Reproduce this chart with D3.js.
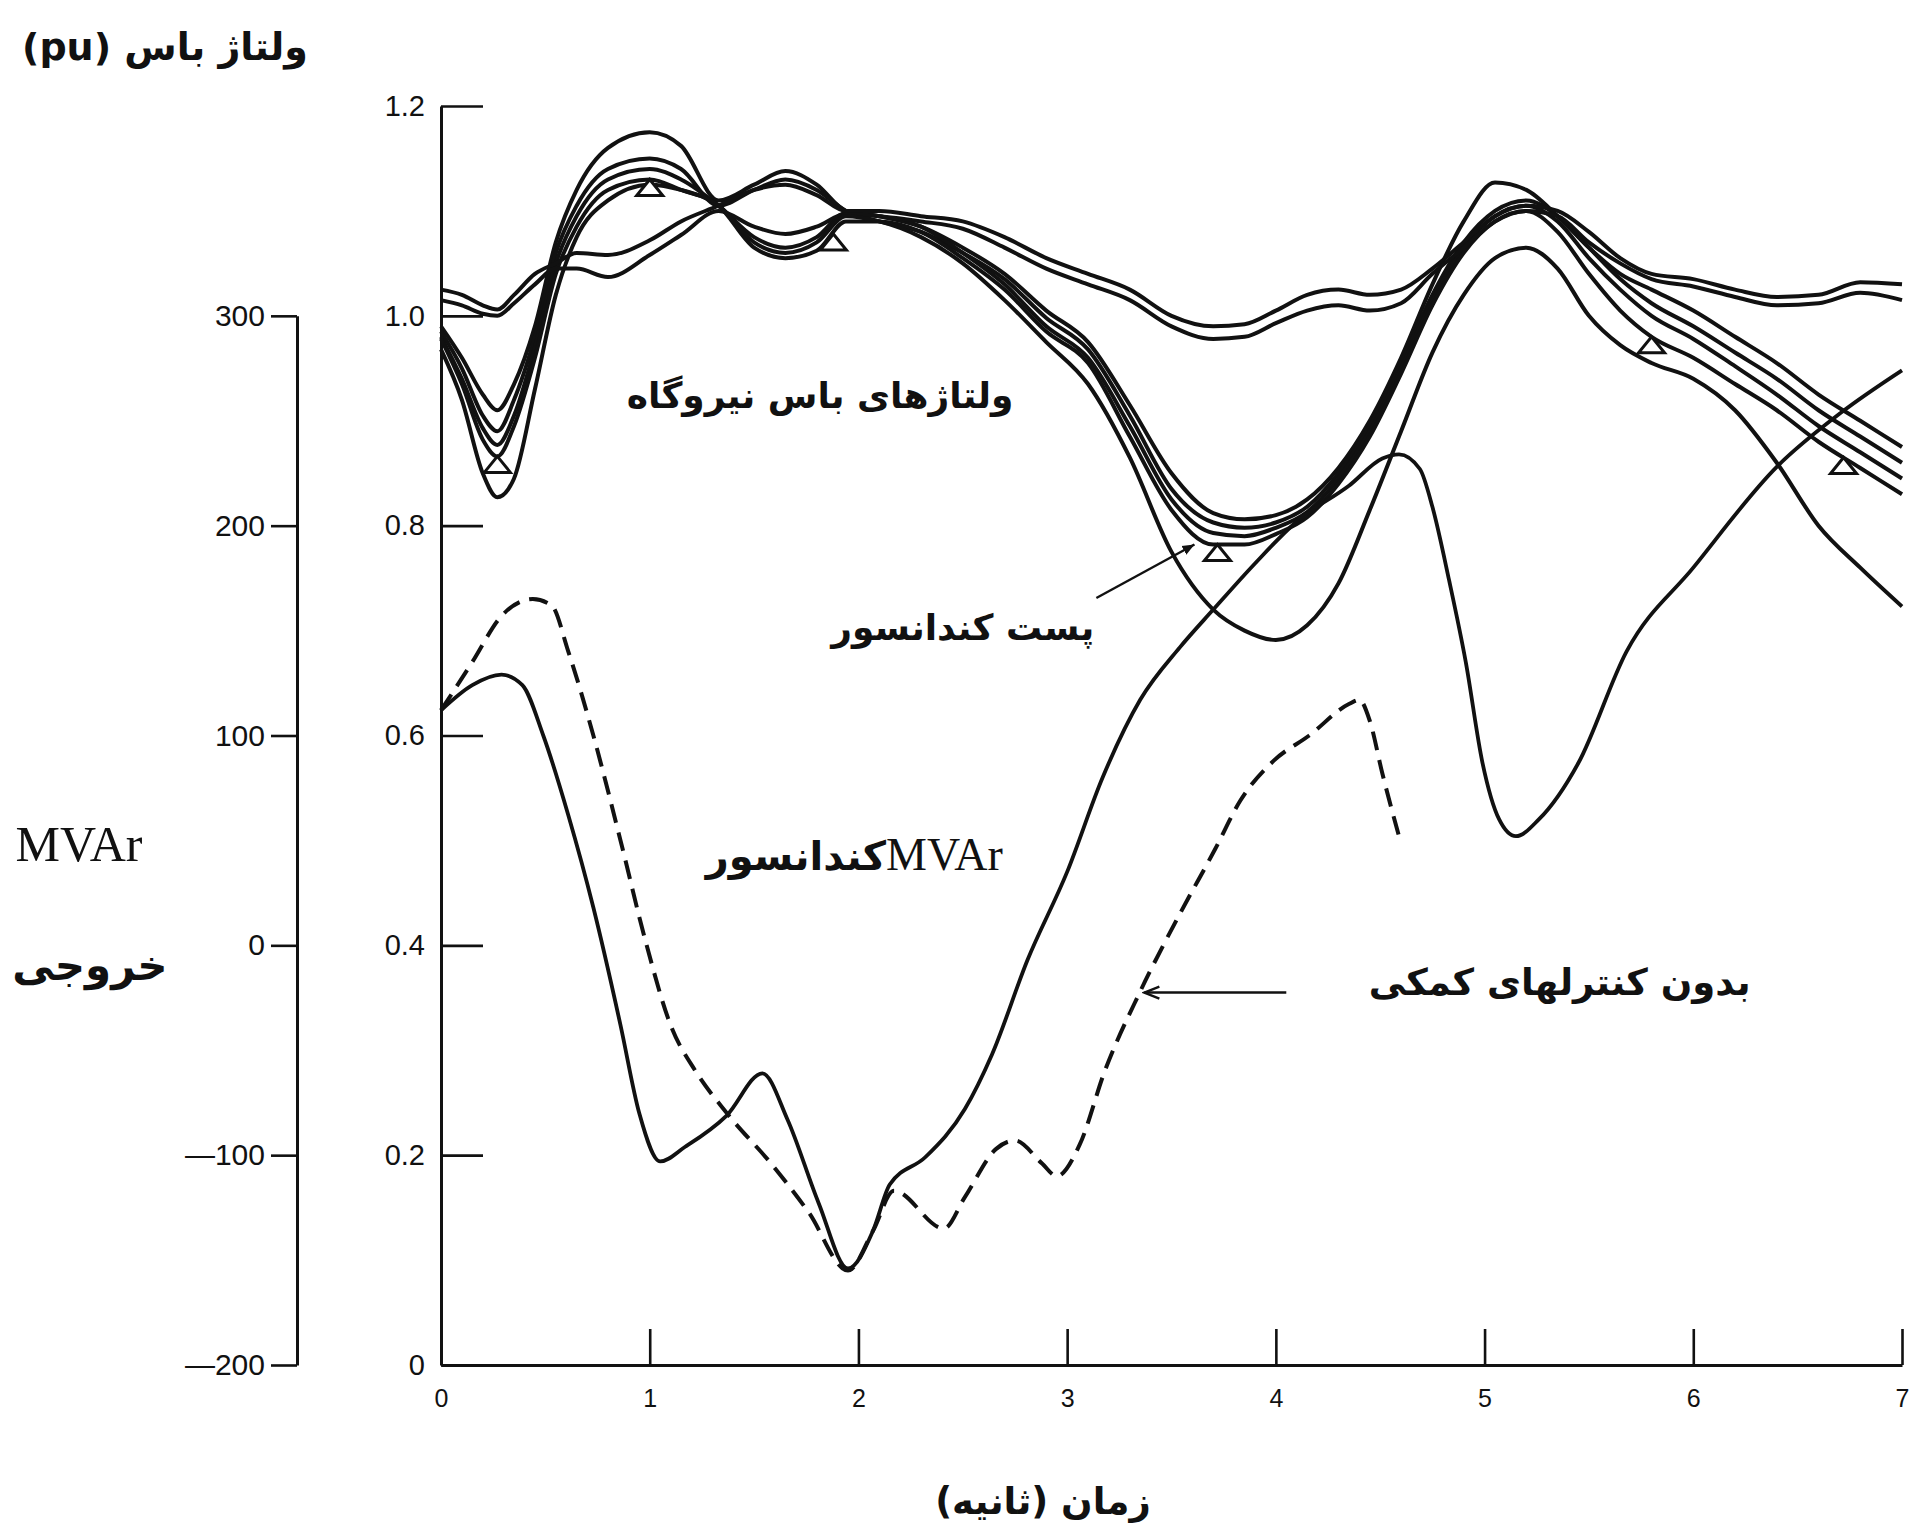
<!DOCTYPE html>
<html>
<head>
<meta charset="utf-8">
<script src="https://cdn.jsdelivr.net/npm/d3@7"></script>
<style>
  body { margin: 0; background: #fff; }
  svg { display: block; }
  .axis text { font-family: "Liberation Sans", Arial, sans-serif; fill: #111; }
  .axis path, .axis line { stroke: #111; }
</style>
</head>
<body>
<div id="chart"></div>
<script>
// ---- data ----
// bus voltage curves (pu), all on one time grid (s)
var voltTime = [0, 0.1, 0.2, 0.27, 0.35, 0.45, 0.55, 0.65, 0.8, 1.0, 1.15, 1.33, 1.5, 1.65, 1.8, 1.94, 2.1, 2.3, 2.5, 2.7, 2.9, 3.1, 3.3, 3.5, 3.7, 3.85, 4.0, 4.15, 4.3, 4.45, 4.6, 4.75, 4.9, 5.05, 5.2, 5.35, 5.5, 5.65, 5.8, 6.0, 6.2, 6.4, 6.6, 6.8, 7.0];
var busA = [0.99, 0.96, 0.925, 0.91, 0.935, 0.99, 1.07, 1.12, 1.16, 1.175, 1.162, 1.11, 1.125, 1.138, 1.125, 1.10, 1.095, 1.085, 1.065, 1.04, 1.005, 0.975, 0.915, 0.85, 0.812, 0.806, 0.81, 0.825, 0.855, 0.9, 0.96, 1.03, 1.09, 1.127, 1.12, 1.095, 1.065, 1.04, 1.025, 1.005, 0.98, 0.955, 0.925, 0.9, 0.875];
var busB = [0.985, 0.95, 0.905, 0.89, 0.92, 0.98, 1.06, 1.105, 1.14, 1.15, 1.14, 1.105, 1.12, 1.13, 1.12, 1.10, 1.09, 1.08, 1.06, 1.035, 0.998, 0.968, 0.905, 0.835, 0.803, 0.798, 0.803, 0.818, 0.85, 0.895, 0.955, 1.02, 1.07, 1.10, 1.11, 1.095, 1.065, 1.035, 1.012, 0.99, 0.965, 0.94, 0.91, 0.885, 0.86];
var busC = [0.98, 0.94, 0.893, 0.877, 0.905, 0.97, 1.05, 1.095, 1.13, 1.14, 1.13, 1.105, 1.075, 1.065, 1.075, 1.098, 1.095, 1.085, 1.06, 1.03, 0.99, 0.96, 0.895, 0.825, 0.793, 0.79, 0.798, 0.813, 0.845, 0.89, 0.95, 1.015, 1.065, 1.095, 1.105, 1.09, 1.055, 1.025, 1.0, 0.978, 0.952, 0.925, 0.895, 0.87, 0.845];
var busD = [0.978, 0.935, 0.882, 0.866, 0.895, 0.96, 1.04, 1.085, 1.12, 1.13, 1.12, 1.105, 1.065, 1.055, 1.062, 1.09, 1.09, 1.08, 1.055, 1.025, 0.985, 0.955, 0.885, 0.815, 0.782, 0.782, 0.792, 0.808, 0.84, 0.885, 0.945, 1.01, 1.06, 1.09, 1.10, 1.08, 1.04, 1.005, 0.98, 0.96, 0.935, 0.91, 0.88, 0.855, 0.83];
var busE = [1.025, 1.02, 1.01, 1.006, 1.02, 1.04, 1.05, 1.06, 1.058, 1.072, 1.09, 1.105, 1.12, 1.125, 1.115, 1.10, 1.10, 1.095, 1.09, 1.075, 1.055, 1.04, 1.025, 1.0, 0.99, 0.992, 1.005, 1.02, 1.025, 1.02, 1.025, 1.045, 1.07, 1.095, 1.105, 1.10, 1.08, 1.055, 1.04, 1.035, 1.025, 1.018, 1.02, 1.032, 1.03];
var busF = [1.015, 1.01, 1.002, 1.0, 1.012, 1.03, 1.045, 1.045, 1.037, 1.058, 1.077, 1.1, 1.085, 1.078, 1.085, 1.097, 1.095, 1.09, 1.083, 1.065, 1.045, 1.03, 1.015, 0.99, 0.978, 0.98, 0.993, 1.005, 1.01, 1.005, 1.012, 1.04, 1.065, 1.09, 1.10, 1.095, 1.07, 1.05, 1.035, 1.028, 1.018, 1.01, 1.012, 1.022, 1.015];
var busCond = [0.968, 0.92, 0.85, 0.827, 0.845, 0.93, 1.02, 1.075, 1.11, 1.125, 1.12, 1.105, 1.07, 1.06, 1.07, 1.095, 1.09, 1.075, 1.05, 1.015, 0.975, 0.935, 0.865, 0.775, 0.72, 0.70, 0.691, 0.705, 0.745, 0.815, 0.89, 0.965, 1.02, 1.055, 1.065, 1.045, 1.0, 0.972, 0.955, 0.94, 0.91, 0.86, 0.80, 0.76, 0.723];

// triangle markers sit on busD at these times (s)
var markerTimes = [0.27, 1.0, 1.88, 3.72, 5.8, 6.72];

// condenser output (MVAr), with auxiliary controls (solid)
var mvarTime = [0, 0.15, 0.29, 0.39, 0.49, 0.61, 0.73, 0.86, 0.95, 1.05, 1.17, 1.37, 1.54, 1.66, 1.81, 1.95, 2.07, 2.15, 2.32, 2.51, 2.64, 2.81, 3.0, 3.17, 3.35, 3.54, 3.7, 3.9, 4.1, 4.35, 4.51, 4.59, 4.69, 4.75, 4.83, 4.91, 4.99, 5.07, 5.15, 5.26, 5.45, 5.68, 6.0, 6.4, 6.71, 7.0];
var mvarWith = [112, 124, 129, 124, 100, 62, 18, -38, -80, -103, -96, -81, -61, -83, -123, -154, -136, -114, -101, -78, -52, -7, 35, 80, 117, 142, 160, 182, 202, 219, 232, 234, 227, 209, 174, 135, 87, 60, 52, 60, 87, 140, 180, 228, 254, 274];

// condenser output without auxiliary controls (dashed)
var dashTime = [0, 0.15, 0.29, 0.44, 0.53, 0.61, 0.73, 0.86, 0.98, 1.1, 1.22, 1.37, 1.59, 1.76, 1.95, 2.07, 2.17, 2.41, 2.51, 2.66, 2.75, 2.88, 2.95, 3.06, 3.18, 3.35, 3.54, 3.71, 3.83, 3.99, 4.16, 4.35, 4.4, 4.45, 4.51, 4.59];
var mvarWithout = [112, 135, 157, 165, 162, 140, 100, 50, 2, -38, -60, -80, -105, -127, -155, -136, -117, -135, -120, -97, -93, -104, -110, -95, -60, -22, 15, 46, 69, 88, 100, 115, 117, 107, 82, 52];

var timeTicks = [0, 1, 2, 3, 4, 5, 6, 7];
var puTicks = [0, 0.2, 0.4, 0.6, 0.8, 1.0, 1.2];
var mvarTicks = [-200, -100, 0, 100, 200, 300];

// ---- drawing ----
var width = 1917, height = 1534;

var svg = d3.select("#chart")
  .append("svg")
    .attr("width", width)
    .attr("height", height);

svg.append("rect")
  .attr("width", width)
  .attr("height", height)
  .attr("fill", "#fff");

var x = d3.scaleLinear().domain([0, 7]).range([441, 1902]);
var y = d3.scaleLinear().domain([0, 1.2]).range([1365, 106]);
var yMvar = d3.scaleLinear().domain([-200, 300]).range([y(0), y(1.0)]);

// x axis, ticks pointing up
var xAxis = d3.axisBottom(x)
  .tickValues(timeTicks)
  .tickSize(-36)
  .tickSizeOuter(0)
  .tickPadding(24)
  .tickFormat(d3.format("d"));
var gx = svg.append("g")
  .attr("class", "axis")
  .attr("transform", "translate(0," + y(0) + ")")
  .call(xAxis);
gx.selectAll("text").attr("font-size", 25);

// pu axis, ticks pointing into the plot
var puAxis = d3.axisLeft(y)
  .tickValues(puTicks)
  .tickSize(-42)
  .tickSizeOuter(0)
  .tickPadding(16)
  .tickFormat(function(d) { return d === 0 ? "0" : d.toFixed(1); });
var gy = svg.append("g")
  .attr("class", "axis")
  .attr("transform", "translate(" + x(0) + ",0)")
  .call(puAxis);
gy.selectAll("text").attr("font-size", 29);

// MVAr axis
var mvarAxis = d3.axisLeft(yMvar)
  .tickValues(mvarTicks)
  .tickSize(26)
  .tickSizeOuter(0)
  .tickPadding(6)
  .tickFormat(function(d) { return d < 0 ? "\u2014" + Math.abs(d) : String(d); });
var gm = svg.append("g")
  .attr("class", "axis")
  .attr("transform", "translate(297,0)")
  .call(mvarAxis);
gm.selectAll("text").attr("font-size", 30);

svg.selectAll(".axis .domain").attr("stroke-width", 3);
svg.selectAll(".axis .tick line").attr("stroke-width", 2.6);

// bus voltage curves
var voltSeries = [busA, busB, busC, busD, busE, busF, busCond];

var line = d3.line()
  .x(function(d) { return x(d.t); })
  .y(function(d) { return y(d.v); })
  .curve(d3.curveMonotoneX);

svg.selectAll(".volt")
  .data(voltSeries.map(function(vals) {
    return vals.map(function(v, i) { return {t: voltTime[i], v: v}; });
  }))
  .enter()
  .append("path")
    .attr("class", "volt")
    .attr("d", line)
    .attr("fill", "none")
    .attr("stroke", "#111")
    .attr("stroke-width", 4)
    .attr("stroke-linejoin", "round");

// condenser MVAr curves
var mvarLine = d3.line()
  .x(function(d) { return x(d.t); })
  .y(function(d) { return yMvar(d.q); })
  .curve(d3.curveMonotoneX);

svg.append("path")
  .datum(mvarWith.map(function(q, i) { return {t: mvarTime[i], q: q}; }))
  .attr("d", mvarLine)
  .attr("fill", "none")
  .attr("stroke", "#111")
  .attr("stroke-width", 3.8);

svg.append("path")
  .datum(mvarWithout.map(function(q, i) { return {t: dashTime[i], q: q}; }))
  .attr("d", mvarLine)
  .attr("fill", "none")
  .attr("stroke", "#111")
  .attr("stroke-width", 4)
  .attr("stroke-dasharray", "19,10");

// triangle markers on busD
var onBusD = d3.scaleLinear().domain(voltTime).range(busD);
svg.selectAll(".tri")
  .data(markerTimes)
  .enter()
  .append("path")
    .attr("class", "tri")
    .attr("transform", function(d) { return "translate(" + x(d) + "," + y(onBusD(d)) + ")"; })
    .attr("d", "M0,0 L13,16 L-13,16 Z")
    .attr("fill", "#fff")
    .attr("stroke", "#111")
    .attr("stroke-width", 3);

// arrow heads
var defs = svg.append("defs");
defs.append("marker")
  .attr("id", "headFill")
  .attr("viewBox", "-12 -6 14 12")
  .attr("markerWidth", 14)
  .attr("markerHeight", 12)
  .attr("markerUnits", "userSpaceOnUse")
  .attr("orient", "auto")
  .append("path")
    .attr("d", "M-12,-5 L0,0 L-12,5 Z")
    .attr("fill", "#111");
defs.append("marker")
  .attr("id", "headOpen")
  .attr("viewBox", "-16 -8 18 16")
  .attr("markerWidth", 18)
  .attr("markerHeight", 16)
  .attr("markerUnits", "userSpaceOnUse")
  .attr("orient", "auto")
  .append("path")
    .attr("d", "M-15,-6 L0,0 L-15,6")
    .attr("fill", "none")
    .attr("stroke", "#111")
    .attr("stroke-width", 2.4);

// pointer to the condenser substation bus
svg.append("line")
  .attr("x1", x(3.14)).attr("y1", y(0.731))
  .attr("x2", x(3.61)).attr("y2", y(0.782))
  .attr("stroke", "#111")
  .attr("stroke-width", 2.4)
  .attr("marker-end", "url(#headFill)");

// pointer to the dashed curve
svg.append("line")
  .attr("x1", x(4.05)).attr("y1", y(0.355))
  .attr("x2", x(3.37)).attr("y2", y(0.355))
  .attr("stroke", "#111")
  .attr("stroke-width", 2.4)
  .attr("marker-end", "url(#headOpen)");

// ---- texts ----
var faFont = "'DejaVu Sans', sans-serif";

function faText(tx, ty, str, size) {
  return svg.append("text")
    .attr("x", tx)
    .attr("y", ty)
    .attr("direction", "rtl")
    .attr("text-anchor", "middle")
    .attr("font-family", faFont)
    .attr("font-weight", "bold")
    .attr("font-size", size)
    .attr("fill", "#111")
    .text(str);
}

faText(165, 60, "ولتاژ باس (pu)", 38);
faText(90, 980, "خروجی", 42);
faText(x(1.816), y(0.912), "ولتاژهای باس نیروگاه", 36);
faText(x(2.5), y(0.691), "پست کندانسور", 36);
faText(x(5.36), y(0.353), "بدون کنترلهای کمکی", 37);
faText(1043, 1514, "زمان (ثانیه)", 37);

svg.append("text")
  .attr("x", 79)
  .attr("y", 861)
  .attr("text-anchor", "middle")
  .attr("font-family", "'Liberation Serif', serif")
  .attr("font-size", 50)
  .attr("fill", "#111")
  .text("MVAr");

var condLabel = svg.append("text")
  .attr("x", x(1.98))
  .attr("y", y(0.472))
  .attr("direction", "rtl")
  .attr("text-anchor", "middle")
  .attr("fill", "#111");
condLabel.append("tspan")
  .attr("font-family", "'Liberation Serif', serif")
  .attr("font-size", 46)
  .text("MVAr");
condLabel.append("tspan")
  .attr("font-family", faFont)
  .attr("font-weight", "bold")
  .attr("font-size", 40)
  .text("کندانسور");
</script>
</body>
</html>
